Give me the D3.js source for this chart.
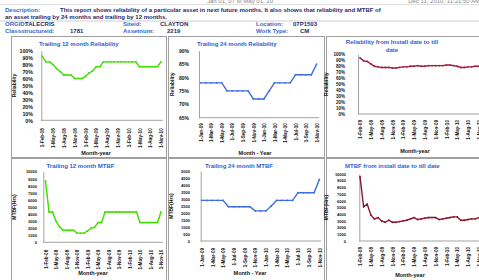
<!DOCTYPE html>
<meta charset="utf-8">
<head>
    <script src="https://d3js.org/d3.v7.min.js"></script>
</head>
<body style="margin:0; background:#fff;">
    <div id="svg_div"></div>
</body>
<style>
    svg text { font-family: "Liberation Sans", Arial, sans-serif; }
</style>
<script>

    // months on the x axis
    var monthsFull = d3.timeMonth.range(new Date(2008, 1, 1), new Date(2010, 11, 1));  // Feb-08 .. Nov-10
    var monthsTwoYr = d3.timeMonth.range(new Date(2009, 0, 1), new Date(2010, 11, 1)); // Jan-09 .. Nov-10
    var fmtMonth = d3.timeFormat("%-d-%b-%y");

    // series
    var rel12 = [92, 84, 84, 80, 74, 70, 65, 65, 65, 60, 60, 60, 63, 68, 71, 77, 77,
        84, 84, 84, 84, 84, 84, 84, 84, 84, 84, 77, 77, 77, 77, 77, 77, 84];
    var rel24 = [78, 78, 78, 78, 78, 75, 75, 75, 75, 75, 72, 72, 72, 75, 78, 78, 78, 78,
        81, 81, 81, 81, 85];
    var relInstall = [94, 89, 88, 84, 80, 79, 78, 78, 78, 77, 77, 78, 79, 79, 80, 80, 81,
        80, 80, 81, 81, 81, 81, 81, 82, 82, 81, 80, 78, 78, 79, 79, 80, 80];
    var mtbf12 = [8700, 4300, 4300, 3000, 2200, 1700, 1700, 1700, 1700, 1300, 1300, 1300,
        1600, 2000, 2100, 2800, 2800, 4300, 4300, 4300, 4300, 4300, 4300, 4300, 4300, 4300,
        4300, 2800, 2800, 2800, 2800, 2800, 2800, 4300];
    var mtbf24 = [2900, 2900, 2900, 2900, 2900, 2450, 2450, 2450, 2450, 2450, 2150, 2150,
        2150, 2500, 2900, 2900, 2900, 2900, 3450, 3450, 3450, 3450, 4400];
    var mtbfInstall = [9600, 5100, 5500, 3900, 3300, 3500, 3000, 2800, 3100, 2800, 2800,
        2900, 3000, 3100, 3300, 3500, 3200, 3300, 3400, 3500, 3500, 3500, 3200, 3300, 3400,
        3500, 3600, 3600, 3100, 3100, 3200, 3300, 3300, 3500];

    // y ticks
    var pctTicks = [0, 10, 20, 30, 40, 50, 60, 70, 80, 90, 100];
    var pct24Ticks = [65, 70, 75, 80, 85, 90];
    var mtbfTicks = [0, 1000, 2000, 3000, 4000, 5000, 6000, 7000, 8000, 9000, 10000];
    var mtbf24Ticks = [0, 500, 1000, 1500, 2000, 2500, 3000, 3500, 4000, 4500, 5000];

    var green = "#3ee000", blue = "#3e6fe0", red = "#a41e3e", darkRed = "#8c1530";
    var labelBlue = "#3a66c4", textNavy = "#1c2c6c";

    var svg = d3.select("#svg_div").append("svg")
        .attr("width", 479)
        .attr("height", 280);

    // ---- header ----
    var head = svg.append("g").style("font-size", "6px");
    head.append("text").attr("x", 240).attr("y", 2.5).attr("text-anchor", "middle")
        .attr("fill", "#888").text("Jan 01, 07 to May 01, 10");
    head.append("text").attr("x", 480).attr("y", 2.5).attr("text-anchor", "end")
        .attr("fill", "#888").text("Dec 11, 2010, 11:21:50 AM");
    head.append("line").attr("x1", 0).attr("x2", 479).attr("y1", 4.5).attr("y2", 4.5)
        .attr("stroke", "#c8c8c8").attr("stroke-width", 0.6);

    function headText(x, y, txt, col) {
        head.append("text").attr("x", x).attr("y", y).attr("fill", col)
            .style("font-weight", "bold").text(txt);
    }
    headText(5, 12, "Description:", labelBlue);
    headText(60, 12, "This report shows reliability of a particular asset in next future months. It also shows that reliability and MTBF of", textNavy);
    headText(5, 19, "an asset trailing by 24 months and trailing by 12 months.", textNavy);
    head.append("line").attr("x1", 0).attr("x2", 479).attr("y1", 21).attr("y2", 21)
        .attr("stroke", "#b0b0b0").attr("stroke-width", 0.6);
    headText(5, 26, "ORGID:", labelBlue);
    headText(25, 26, "TALECRIS", textNavy);
    headText(123, 26, "Siteid:", labelBlue);
    headText(160, 26, "CLAYTON", textNavy);
    headText(256, 26, "Location:", labelBlue);
    headText(293, 26, "07P1503", textNavy);
    headText(5, 33, "Classstructureid:", labelBlue);
    headText(70, 33, "1781", textNavy);
    headText(123, 33, "Assetnum:", labelBlue);
    headText(167, 33, "2219", textNavy);
    headText(256, 33, "Work Type:", labelBlue);
    headText(300, 33, "CM", textNavy);

    // ---- panel frames ----
    var frames = [[11.5, 36.5, 155, 121], [168.5, 36.5, 156, 121], [326.5, 36.5, 160, 121],
        [11.5, 158.5, 155, 130], [168.5, 158.5, 156, 130], [326.5, 158.5, 160, 130]];
    svg.append("g").selectAll("rect").data(frames).enter().append("rect")
        .attr("x", d => d[0]).attr("y", d => d[1])
        .attr("width", d => d[2]).attr("height", d => d[3])
        .attr("fill", "none").attr("stroke", "#a0a0a0").attr("stroke-width", 1);

    function draw_chart(c) {
        let g = svg.append("g");
        let x = d3.scalePoint().domain(c.months.map(fmtMonth)).range(c.xr);
        let y = d3.scaleLinear().domain(c.yd).range(c.yr);

        // title
        c.title.forEach((t, i) => {
            g.append("text").attr("x", c.tx).attr("y", c.ty + i * 8)
                .attr("text-anchor", c.tAnchor || "start")
                .attr("fill", "#2f5fd0").style("font-size", "6px").style("font-weight", "bold")
                .text(t);
        });

        // y axis
        let ya = g.append("g").attr("transform", "translate(" + c.ax + ",0)")
            .call(d3.axisLeft(y).tickValues(c.yt).tickSize(0).tickPadding(c.ax - c.lx)
                .tickFormat(c.yf));
        ya.select(".domain").attr("stroke", "#8a8a8a").attr("stroke-width", 0.8);
        ya.selectAll("text").style("font-size", c.fs + "px").style("font-weight", "bold")
            .attr("fill", "#111");

        // x axis
        let xa = g.append("g").attr("transform", "translate(0," + c.yr[0] + ")")
            .call(d3.axisBottom(x)
                .tickValues(c.months.filter((d, i) => i % c.every == 0).map(fmtMonth))
                .tickSize(0));
        xa.select(".domain").attr("d", "M" + c.ax + ",0H" + c.xEnd)
            .attr("stroke", "#8a8a8a").attr("stroke-width", 0.8);
        xa.selectAll("text")
            .attr("transform", "rotate(-90)")
            .attr("text-anchor", "end")
            .attr("x", -c.gap).attr("y", 0).attr("dy", "0.35em")
            .style("font-size", "4.6px").style("font-weight", "bold").attr("fill", "#111");

        // axis titles
        g.append("text")
            .attr("transform", "translate(" + c.ytx + "," + ((c.yr[0] + c.yr[1]) / 2) + ") rotate(-90)")
            .attr("text-anchor", "middle").style("font-size", "5px").style("font-weight", "bold")
            .attr("fill", "#111").text(c.yTitle);
        g.append("text").attr("x", c.xtx).attr("y", c.xty)
            .attr("text-anchor", "middle").style("font-size", "5.5px").style("font-weight", "bold")
            .attr("fill", "#111").text(c.xTitle);

        // line and markers
        let pts = c.vals.map((v, i) => [x(fmtMonth(c.months[i])), y(v)]);
        g.append("path").datum(pts)
            .attr("d", d3.line())
            .attr("fill", "none").attr("stroke", c.color).attr("stroke-width", 1.4);
        g.selectAll("circle").data(pts).enter().append("circle")
            .attr("cx", d => d[0]).attr("cy", d => d[1]).attr("r", 0.9)
            .attr("fill", c.color);
    }

    var pctFmt = d => d + "%";
    var numFmt = d => d;

    draw_chart({
        months: monthsFull, vals: rel12, color: green, yd: [0, 100], yt: pctTicks, yf: pctFmt,
        yr: [120.3, 50.7], xr: [42.3, 161], ax: 41.3, xEnd: 163, lx: 33, fs: 5.3,
        title: ["Trailing 12 month Reliability"], tx: 39, ty: 46,
        yTitle: "Reliability", ytx: 16, xTitle: "Month-year", xtx: 96, xty: 155, gap: 8, every: 3
    });
    draw_chart({
        months: monthsTwoYr, vals: rel24, color: blue, yd: [65, 90], yt: pct24Ticks, yf: pctFmt,
        yr: [117.7, 50.7], xr: [200.7, 316.6], ax: 199, xEnd: 319, lx: 189, fs: 5,
        title: ["Trailing 24 month Reliability"], tx: 197, ty: 46,
        yTitle: "Reliability", ytx: 174, xTitle: "Month - Year", xtx: 255, xty: 155, gap: 5.5, every: 2
    });
    draw_chart({
        months: monthsFull, vals: relInstall, color: red, yd: [0, 100], yt: pctTicks, yf: pctFmt,
        yr: [114, 54.3], xr: [360, 478.8], ax: 358, xEnd: 490, lx: 345, fs: 4.5,
        title: ["Reliability from Install date to till", "date"], tx: 392, ty: 44, tAnchor: "middle",
        yTitle: "Reliability", ytx: 328, xTitle: "Month-year", xtx: 415, xty: 153, gap: 6, every: 3
    });
    draw_chart({
        months: monthsFull, vals: mtbf12, color: green, yd: [0, 10000], yt: mtbfTicks, yf: numFmt,
        yr: [242.3, 171.7], xr: [45.5, 161], ax: 43.3, xEnd: 163, lx: 37, fs: 4,
        title: ["Trailing 12 month MTBF"], tx: 46.5, ty: 168,
        yTitle: "MTBF(Hrs)", ytx: 16, xTitle: "Month-year", xtx: 93, xty: 275, gap: 7.5, every: 3
    });
    draw_chart({
        months: monthsTwoYr, vals: mtbf24, color: blue, yd: [0, 5000], yt: mtbf24Ticks, yf: numFmt,
        yr: [241, 171], xr: [201.7, 319.4], ax: 200.7, xEnd: 321, lx: 190, fs: 4,
        title: ["Trailing 24 month MTBF"], tx: 205, ty: 167.5,
        yTitle: "MTBF(Hrs)", ytx: 173, xTitle: "Month - Year", xtx: 250, xty: 275, gap: 7, every: 2
    });
    draw_chart({
        months: monthsFull, vals: mtbfInstall, color: darkRed, yd: [0, 10000], yt: mtbfTicks, yf: numFmt,
        yr: [241, 174], xr: [360, 478.8], ax: 359.3, xEnd: 490, lx: 346, fs: 4,
        title: ["MTBF from install date to till date"], tx: 345, ty: 168,
        yTitle: "MTBF(Hrs)", ytx: 328, xTitle: "Month-year", xtx: 410, xty: 277, gap: 6, every: 3
    });

</script>
